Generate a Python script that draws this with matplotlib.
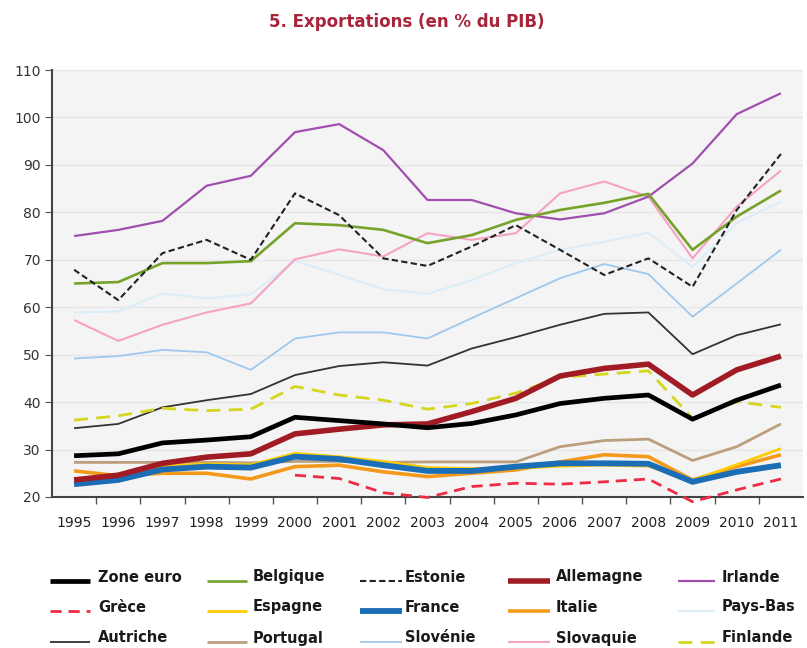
import matplotlib
matplotlib.use("Agg")
import matplotlib.pyplot as plt
from matplotlib.lines import Line2D
import numpy as np

years = list(range(1995, 2012))

zone_euro = [28.7, 29.1, 31.4, 32.0, 32.7, 36.8, 36.1, 35.4, 34.6, 35.5, 37.3, 39.7, 40.8, 41.5, 36.4, 40.4, 43.6]
belgique = [65.0, 65.3, 69.3, 69.3, 69.7, 77.7, 77.3, 76.3, 73.5, 75.2, 78.4, 80.5, 82.0, 83.9, 72.1, 79.1, 84.6]
estonie = [67.9, 61.5, 71.4, 74.2, 70.0, 84.0, 79.4, 70.3, 68.7, 72.8, 77.3, 72.1, 66.8, 70.3, 64.3, 80.5, 92.3]
allemagne = [23.6, 24.6, 27.1, 28.4, 29.1, 33.3, 34.3, 35.2, 35.4, 38.0, 40.8, 45.5, 47.1, 48.0, 41.5, 46.8, 49.7]
irlande = [75.0, 76.3, 78.2, 85.6, 87.7, 96.9, 98.6, 93.1, 82.6, 82.6, 79.8, 78.5, 79.8, 83.3, 90.3, 100.7, 105.1]
grece = [None, None, None, None, None, 24.6, 23.9, 20.9, 19.9, 22.2, 22.9, 22.7, 23.2, 23.8, 19.0, 21.5, 23.8]
espagne = [23.0, 24.0, 26.5, 27.0, 26.8, 29.2, 28.5, 27.5, 26.2, 26.0, 26.0, 26.5, 26.7, 26.5, 23.5, 26.8, 30.2]
france = [22.7, 23.6, 25.8, 26.4, 26.2, 28.5, 28.0, 26.7, 25.5, 25.5, 26.4, 27.1, 27.1, 27.0, 23.2, 25.3, 26.7]
italie = [25.5, 24.5, 25.0, 25.0, 23.8, 26.4, 26.7, 25.3, 24.3, 25.0, 25.7, 27.4, 28.9, 28.5, 23.6, 26.4, 28.9]
pays_bas = [58.9, 59.1, 62.9, 61.9, 62.7, 69.8, 66.8, 63.8, 62.8, 65.7, 69.3, 72.1, 73.8, 75.7, 68.5, 77.7, 82.3]
autriche = [34.5, 35.4, 38.9, 40.4, 41.7, 45.7, 47.6, 48.4, 47.7, 51.3, 53.7, 56.3, 58.6, 58.9, 50.1, 54.1, 56.4]
portugal = [27.3, 27.3, 27.3, 27.3, 27.2, 27.5, 27.5, 27.3, 27.4, 27.4, 27.4, 30.6, 31.9, 32.2, 27.7, 30.6, 35.4]
slovenie = [49.2, 49.7, 51.0, 50.5, 46.8, 53.4, 54.7, 54.7, 53.4, 57.7, 61.9, 66.1, 69.1, 67.0, 58.0, 65.0, 72.1]
slovaquie = [57.3, 52.9, 56.3, 58.9, 60.8, 70.1, 72.2, 70.7, 75.6, 74.2, 75.6, 84.0, 86.5, 83.3, 70.3, 81.2, 88.8]
finlande = [36.2, 37.1, 38.7, 38.2, 38.5, 43.3, 41.5, 40.4, 38.5, 39.7, 41.9, 45.2, 45.9, 46.6, 36.6, 40.1, 38.9]

title = "5. Exportations (en % du PIB)"
y_ticks = [20, 30, 40, 50, 60, 70, 80, 90, 100, 110]

# name, data, color, lw, linestyle, zorder
series = [
    ("Pays-Bas", pays_bas, "#dcedf8", 1.5, "-", 2),
    ("Slovénie", slovenie, "#9fc8ee", 1.3, "-", 2),
    ("Slovaquie", slovaquie, "#f5a3c5", 1.5, "-", 2),
    ("Irlande", irlande, "#a04fae", 1.6, "-", 3),
    ("Belgique", belgique, "#76a22a", 1.9, "-", 3),
    ("Estonie", estonie, "#222222", 1.5, (0, (3, 1.6)), 3),
    ("Autriche", autriche, "#333333", 1.3, "-", 3),
    ("Finlande", finlande, "#d6d61e", 2.0, (0, (5, 3)), 3),
    ("Portugal", portugal, "#bb9f7c", 2.0, "-", 3),
    ("Italie", italie, "#f39a1c", 2.6, "-", 4),
    ("Espagne", espagne, "#ffcc00", 2.0, "-", 4),
    ("France", france, "#1b6db5", 4.2, "-", 4),
    ("Grèce", grece, "#ec2c44", 2.0, (0, (4, 2.5)), 5),
    ("Allemagne", allemagne, "#a11b24", 4.0, "-", 5),
    ("Zone euro", zone_euro, "#000000", 3.4, "-", 6),
]
style = {s[0]: s for s in series}

fig = plt.figure(figsize=(8.07, 6.48), dpi=100)
ax = fig.add_axes([52 / 807, 1 - 497 / 648, (803 - 52) / 807, (497 - 70) / 648])
ax.set_facecolor("#f4f4f4")

for name, data, color, lw, ls, z in series:
    arr = np.array([np.nan if v is None else v for v in data], dtype=float)
    ax.plot(years, arr, color=color, lw=lw, linestyle=ls, zorder=z,
            clip_on=(name != "Grèce"), solid_capstyle="butt")

ax.set_xlim(1994.5, 2011.5)
ax.set_ylim(20, 110)
ax.set_yticks(y_ticks)
ax.set_xticks(years)
ax.set_xticks([y + 0.5 for y in years[:-1]], minor=True)
ax.tick_params(axis="x", which="major", length=0, pad=14, labelsize=10, labelcolor="#222222")
ax.tick_params(axis="x", which="minor", length=5, color="#555555", width=1)
ax.tick_params(axis="y", length=5, color="#555555", labelsize=10, labelcolor="#333333", pad=3)
ax.yaxis.grid(True, color="#e6e6e6", lw=1)
ax.set_axisbelow(True)
for sp in ["top", "right"]:
    ax.spines[sp].set_visible(False)
for sp in ["left", "bottom"]:
    ax.spines[sp].set_color("#444444")
    ax.spines[sp].set_linewidth(1.5)

fig.text(407 / 807, 1 - 22 / 648, title, ha="center", va="center",
         color="#a8243a", fontsize=12, fontweight="bold")

legend_rows = [
    ["Zone euro", "Belgique", "Estonie", "Allemagne", "Irlande"],
    ["Grèce", "Espagne", "France", "Italie", "Pays-Bas"],
    ["Autriche", "Portugal", "Slovénie", "Slovaquie", "Finlande"],
]
row_y = [577, 607, 638]
col_handle = [(50, 90), (207, 247), (360, 402), (508, 550), (678, 715)]
col_text = [98, 253, 405, 556, 722]
for r, row in enumerate(legend_rows):
    yy = 1 - row_y[r] / 648
    for c, name in enumerate(row):
        _, _, color, lw, ls, _ = style[name]
        x0, x1 = col_handle[c]
        fig.add_artist(Line2D([x0 / 807, x1 / 807], [yy - 0.006, yy - 0.006], color=color,
                              lw=lw, linestyle=ls, transform=fig.transFigure,
                              solid_capstyle="butt"))
        fig.text(col_text[c] / 807, yy, name, ha="left", va="center",
                 fontsize=10.5, fontweight="bold", color="#1a1a1a")

fig.savefig("out.png", dpi=100)
